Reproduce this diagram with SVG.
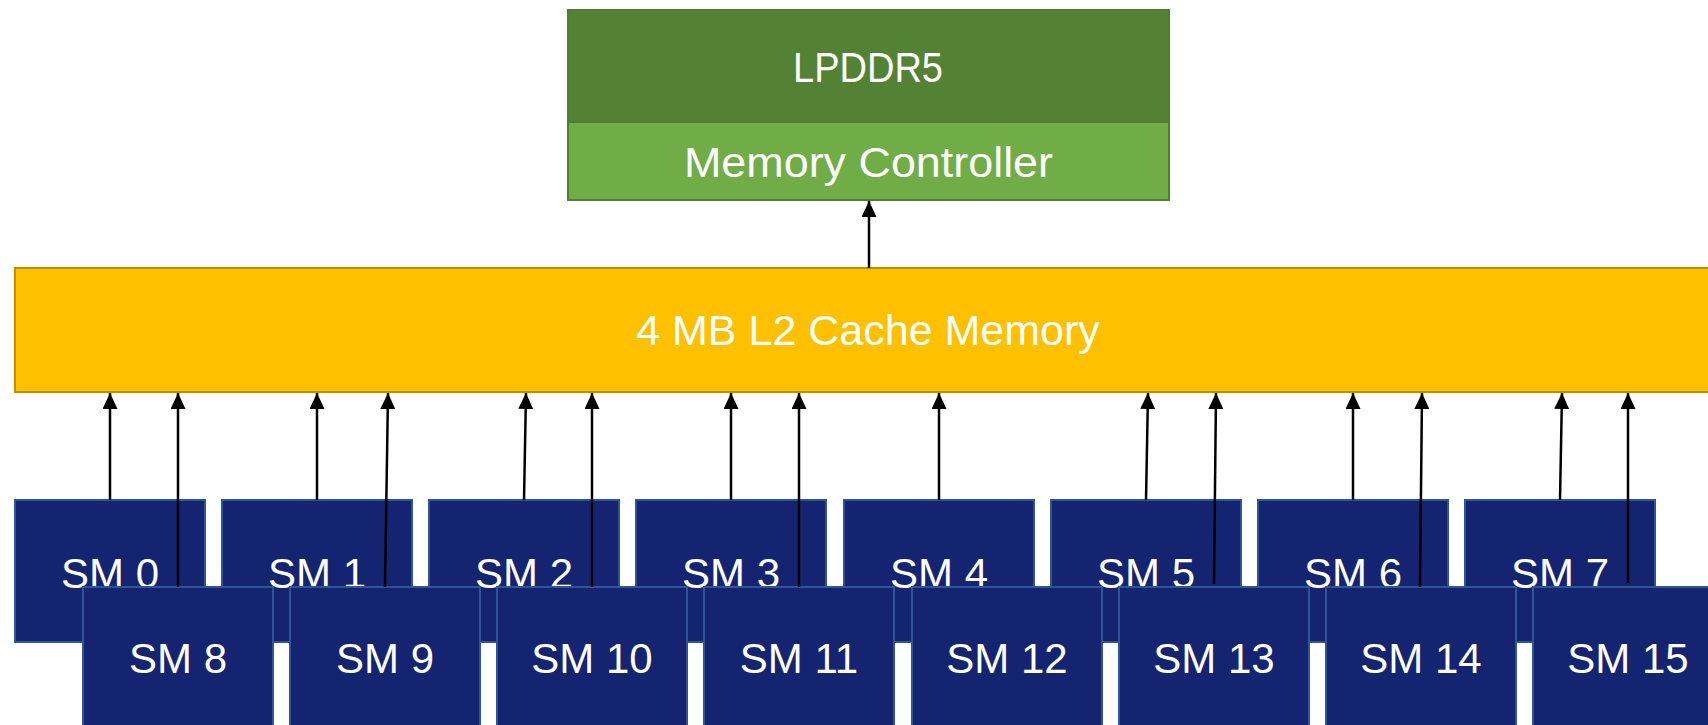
<svg xmlns="http://www.w3.org/2000/svg" width="1708" height="725" viewBox="0 0 1708 725">
<style>
text{font-family:"Liberation Sans",Arial,sans-serif;fill:#fff;text-anchor:middle}
.sm{fill:#142470;stroke:#2F5597;stroke-width:2}
.smt{font-size:42px}
.con{stroke:#000;stroke-width:2.5;fill:none;marker-end:url(#ah)}
</style>
<defs>
<marker id="ah" viewBox="0 0 16 15" refX="16" refY="7.5" markerWidth="16" markerHeight="15" markerUnits="userSpaceOnUse" orient="auto">
<path d="M0,0 L16,7.5 L0,15 Z" fill="#000"/>
</marker>
</defs>
<rect width="1708" height="725" fill="#fff"/>
<g id="lpddr5">
<rect x="568" y="10" width="601" height="112" fill="#548235" stroke="#507E32" stroke-width="2"/>
<text x="868" y="82" font-size="42" textLength="150" lengthAdjust="spacingAndGlyphs">LPDDR5</text>
</g>
<g id="memory-controller">
<rect x="568" y="122" width="601" height="78" fill="#70AD47" stroke="#507E32" stroke-width="2"/>
<text x="868.5" y="177" font-size="42" textLength="369" lengthAdjust="spacingAndGlyphs">Memory Controller</text>
</g>
<g id="l2-cache">
<rect x="15" y="268" width="1706" height="124" fill="#FFC000" stroke="#BF9000" stroke-width="2"/>
<text x="868" y="345" font-size="43">4 MB L2 Cache Memory</text>
</g>
<g id="sm0"><rect class="sm" x="15" y="500" width="190" height="142"/><text class="smt" x="110" y="588">SM 0</text></g>
<g id="sm1"><rect class="sm" x="222" y="500" width="190" height="142"/><text class="smt" x="317" y="588">SM 1</text></g>
<g id="sm2"><rect class="sm" x="429" y="500" width="190" height="142"/><text class="smt" x="524" y="588">SM 2</text></g>
<g id="sm3"><rect class="sm" x="636" y="500" width="190" height="142"/><text class="smt" x="731" y="588">SM 3</text></g>
<g id="sm4"><rect class="sm" x="844" y="500" width="190" height="142"/><text class="smt" x="939" y="588">SM 4</text></g>
<g id="sm5"><rect class="sm" x="1051" y="500" width="190" height="142"/><text class="smt" x="1146" y="588">SM 5</text></g>
<g id="sm6"><rect class="sm" x="1258" y="500" width="190" height="142"/><text class="smt" x="1353" y="588">SM 6</text></g>
<g id="sm7"><rect class="sm" x="1465" y="500" width="190" height="142"/><text class="smt" x="1560" y="588">SM 7</text></g>
<g id="sm8"><rect class="sm" x="83" y="587" width="190" height="142"/><text class="smt" x="178" y="673">SM 8</text></g>
<g id="sm9"><rect class="sm" x="290" y="587" width="190" height="142"/><text class="smt" x="385" y="673">SM 9</text></g>
<g id="sm10"><rect class="sm" x="497" y="587" width="190" height="142"/><text class="smt" x="592" y="673">SM 10</text></g>
<g id="sm11"><rect class="sm" x="704" y="587" width="190" height="142"/><text class="smt" x="799" y="673">SM 11</text></g>
<g id="sm12"><rect class="sm" x="912" y="587" width="190" height="142"/><text class="smt" x="1007" y="673">SM 12</text></g>
<g id="sm13"><rect class="sm" x="1119" y="587" width="190" height="142"/><text class="smt" x="1214" y="673">SM 13</text></g>
<g id="sm14"><rect class="sm" x="1326" y="587" width="190" height="142"/><text class="smt" x="1421" y="673">SM 14</text></g>
<g id="sm15"><rect class="sm" x="1533" y="587" width="190" height="142"/><text class="smt" x="1628" y="673">SM 15</text></g>
<g id="connectors">
<line class="con" x1="869" y1="268" x2="869" y2="201"/>
<line class="con" x1="110" y1="500" x2="110" y2="393"/>
<line class="con" x1="178" y1="587" x2="178" y2="393"/>
<line class="con" x1="317" y1="500" x2="317" y2="393"/>
<line class="con" x1="385" y1="587" x2="388" y2="393"/>
<line class="con" x1="524" y1="500" x2="526" y2="393"/>
<line class="con" x1="592" y1="587" x2="592" y2="393"/>
<line class="con" x1="731" y1="500" x2="731" y2="393"/>
<line class="con" x1="799" y1="587" x2="799" y2="393"/>
<line class="con" x1="939" y1="500" x2="939" y2="393"/>
<line class="con" x1="1146" y1="500" x2="1148" y2="393"/>
<line class="con" x1="1214" y1="584" x2="1216" y2="393"/>
<line class="con" x1="1353" y1="500" x2="1353" y2="393"/>
<line class="con" x1="1420" y1="587" x2="1422" y2="393"/>
<line class="con" x1="1560" y1="500" x2="1562" y2="393"/>
<line class="con" x1="1628" y1="583" x2="1628" y2="393"/>
</g>
</svg>
